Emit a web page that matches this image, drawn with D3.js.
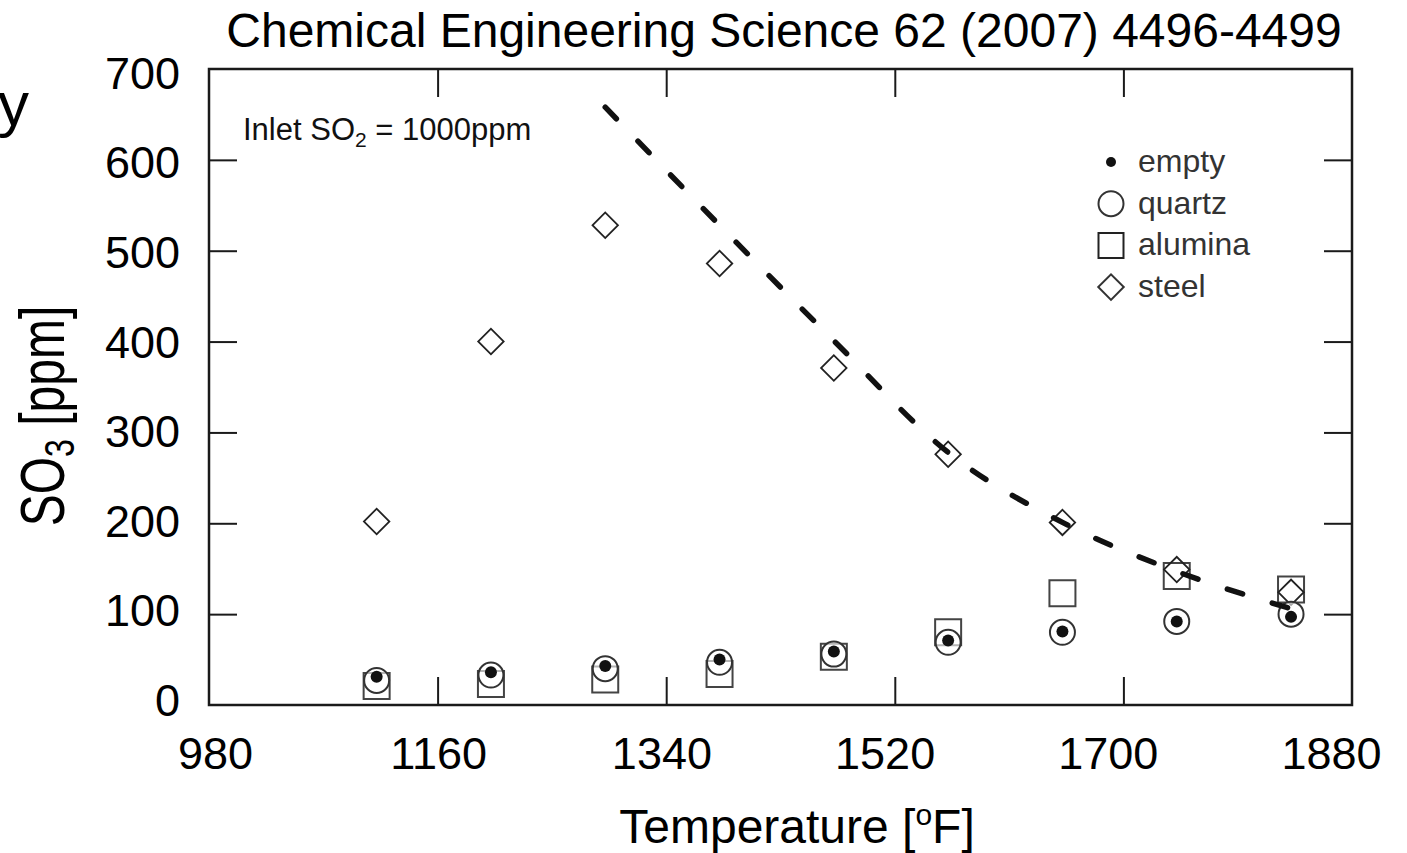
<!DOCTYPE html>
<html>
<head>
<meta charset="UTF-8">
<title>SO3 vs temperature</title>
<style>
  body { margin: 0; background: #fff; font-family: 'Liberation Sans', Arial, sans-serif; }
  .frame { fill: none; stroke: #1a1a1a; stroke-width: 2.5; }
  .inner line { stroke: #1a1a1a; stroke-width: 2; }
  .inner path, .labels path, .labels line { display: none; }
  .labels text { font-size: 45px; fill: #000; font-family: 'Liberation Sans', Arial, sans-serif; }
  .big { font-size: 48px; fill: #000; }
  .legend text { font-size: 32px; fill: #333; }
  .note { font-size: 31px; fill: #111; }
</style>
</head>
<body>
<script src="https://d3js.org/d3.v7.min.js"></script>
<script>
// measured temperatures (600..1000 C, shown in F)
var tempsF = [1112, 1202, 1292, 1382, 1472, 1562, 1652, 1742, 1832];
var empty   = [31, 36, 43, 50, 59, 71, 81, 92, 97];
var quartz  = [27, 33, 40, 47, 56, 69, 80, 92, 100];
var alumina = [21, 23, 28, 34, 53, 80, 123, 142, 127];
var steel   = [202, 400, 528, 486, 371, 276, 201, 149, 124];

// dashed model curve
var modelF = [1292, 1382, 1472, 1562, 1652, 1742, 1832];
var modelY = [658, 528, 401, 278, 201, 147, 106];

var xTicks = [980, 1160, 1340, 1520, 1700, 1880];
var yTicks = [0, 100, 200, 300, 400, 500, 600, 700];
var legendNames = ["empty", "quartz", "alumina", "steel"];

var W = 1407, H = 853;
var plotL = 209, plotR = 1352, plotT = 69, plotB = 705;

var svg = d3.select("body").append("svg")
    .attr("width", W)
    .attr("height", H);

var x = d3.scaleLinear().domain([980, 1880]).range([plotL, plotR]);
var y = d3.scaleLinear().domain([0, 700]).range([plotB, plotT]);
// tick labels were pasted on slightly off the frame ticks
var xLab = d3.scaleLinear().domain([980, 1880]).range([215, 1331]);
var yLab = d3.scaleLinear().domain([0, 700]).range([701, 74]);

// frame
svg.append("rect").attr("class", "frame")
    .attr("x", plotL).attr("y", plotT)
    .attr("width", plotR - plotL).attr("height", plotB - plotT);

// inner ticks on all four sides
var inner = xTicks.slice(1, -1), innerY = yTicks.slice(1, -1);
svg.append("g").attr("class", "inner").attr("transform", "translate(0," + plotB + ")")
    .call(d3.axisBottom(x).tickValues(inner).tickSize(-28).tickFormat(""));
svg.append("g").attr("class", "inner").attr("transform", "translate(0," + plotT + ")")
    .call(d3.axisTop(x).tickValues(inner).tickSize(-28).tickFormat(""));
svg.append("g").attr("class", "inner").attr("transform", "translate(" + plotL + ",0)")
    .call(d3.axisLeft(y).tickValues(innerY).tickSize(-28).tickFormat(""));
svg.append("g").attr("class", "inner").attr("transform", "translate(" + plotR + ",0)")
    .call(d3.axisRight(y).tickValues(innerY).tickSize(-28).tickFormat(""));

// tick labels
svg.append("g").attr("class", "labels").attr("transform", "translate(0," + plotB + ")")
    .call(d3.axisBottom(xLab).tickValues(xTicks).tickSize(0).tickPadding(32).tickFormat(d3.format("d")));
svg.append("g").attr("class", "labels").attr("transform", "translate(" + plotL + ",0)")
    .call(d3.axisLeft(yLab).tickValues(yTicks).tickSize(0).tickPadding(29).tickFormat(d3.format("d")));

// titles
svg.append("text").attr("class", "big")
    .attr("x", 784).attr("y", 47).attr("text-anchor", "middle")
    .text("Chemical Engineering Science 62 (2007) 4496-4499");

var xl = svg.append("text").attr("class", "big")
    .attr("x", 797).attr("y", 843).attr("text-anchor", "middle");
xl.append("tspan").text("Temperature [");
xl.append("tspan").attr("dy", -18).attr("font-size", 30).text("o");
xl.append("tspan").attr("dy", 18).text("F]");

var yl = svg.append("text").attr("class", "big")
    .attr("text-anchor", "middle")
    .attr("transform", "translate(64,416) rotate(-90) scale(1,1.3)");
yl.append("tspan").text("SO");
yl.append("tspan").attr("dy", 8).attr("font-size", 32).text("3");
yl.append("tspan").attr("dy", -8).text(" [ppm]");

// cut-off text at the left edge (as in the source slide)
svg.append("text").attr("x", 29).attr("y", 125).attr("text-anchor", "end")
    .attr("font-size", 62).text("y");

// note
var note = svg.append("text").attr("class", "note").attr("x", 243).attr("y", 140);
note.append("tspan").text("Inlet SO");
note.append("tspan").attr("dy", 7).attr("font-size", 21).text("2");
note.append("tspan").attr("dy", -7).text(" = 1000ppm");

// markers
var sq = d3.symbol().type(d3.symbolSquare);
var pts = function(vals) { return tempsF.map(function(t, i) { return [t, vals[i]]; }); };

svg.append("g").selectAll("path").data(pts(alumina)).enter().append("path")
    .attr("d", sq.size(26 * 26))
    .attr("transform", function(d) { return "translate(" + x(d[0]) + "," + y(d[1]) + ")"; })
    .attr("fill", "none").attr("stroke", "#444").attr("stroke-width", 2);

svg.append("g").selectAll("path").data(pts(steel)).enter().append("path")
    .attr("d", sq.size(18 * 18))
    .attr("transform", function(d) { return "translate(" + x(d[0]) + "," + y(d[1]) + ") rotate(45)"; })
    .attr("fill", "none").attr("stroke", "#222").attr("stroke-width", 1.8);

svg.append("g").selectAll("circle").data(pts(quartz)).enter().append("circle")
    .attr("cx", function(d) { return x(d[0]); })
    .attr("cy", function(d) { return y(d[1]); })
    .attr("r", 12.5)
    .attr("fill", "#fff").attr("fill-opacity", 0.6).attr("stroke", "#333").attr("stroke-width", 2);

svg.append("g").selectAll("circle").data(pts(empty)).enter().append("circle")
    .attr("cx", function(d) { return x(d[0]); })
    .attr("cy", function(d) { return y(d[1]); })
    .attr("r", 6).attr("fill", "#111");

// model line
var line = d3.line()
    .x(function(d) { return x(d[0]); })
    .y(function(d) { return y(d[1]); })
    .curve(d3.curveMonotoneX);
svg.append("path")
    .datum(modelF.map(function(t, i) { return [t, modelY[i]]; }))
    .attr("d", line)
    .attr("fill", "none").attr("stroke", "#111").attr("stroke-width", 5.5)
    .attr("stroke-dasharray", "16,31").attr("stroke-linecap", "round");

// legend
var lg = svg.append("g").attr("class", "legend").attr("transform", "translate(1111,162)");
var rowH = 41.7;
legendNames.forEach(function(name, i) {
    var yy = i * rowH;
    if (name === "empty") {
        lg.append("circle").attr("cx", 0).attr("cy", yy).attr("r", 5).attr("fill", "#111");
    } else if (name === "quartz") {
        lg.append("circle").attr("cx", 0).attr("cy", yy).attr("r", 12.5)
            .attr("fill", "none").attr("stroke", "#333").attr("stroke-width", 2);
    } else if (name === "alumina") {
        lg.append("path").attr("d", sq.size(25 * 25)).attr("transform", "translate(0," + yy + ")")
            .attr("fill", "none").attr("stroke", "#222").attr("stroke-width", 2);
    } else {
        lg.append("path").attr("d", sq.size(18 * 18)).attr("transform", "translate(0," + yy + ") rotate(45)")
            .attr("fill", "none").attr("stroke", "#333").attr("stroke-width", 2);
    }
    lg.append("text").attr("x", 27).attr("y", yy + 10).text(name);
});
</script>
</body>
</html>
